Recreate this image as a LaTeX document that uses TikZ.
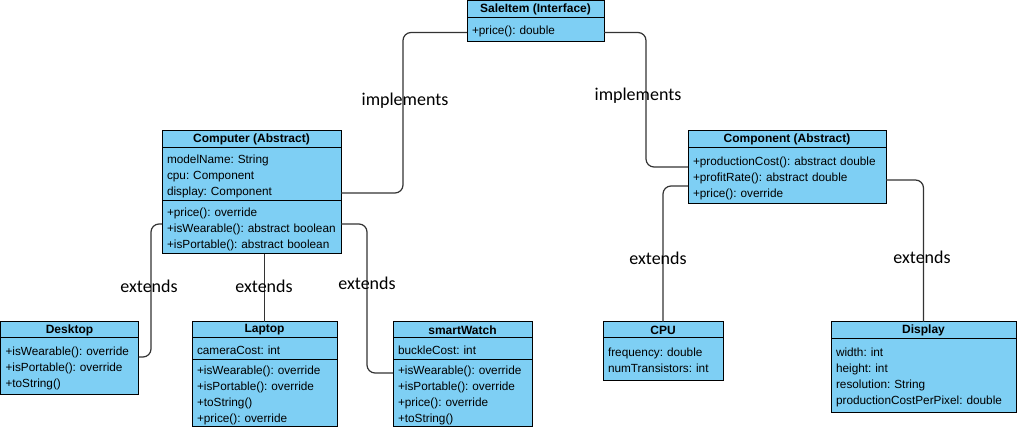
\documentclass[tikz,border=0pt]{standalone}
\usepackage{fontspec}
\usepackage{tikz}
\usetikzlibrary{positioning}
\newfontfamily\classfont{Liberation Sans}
\newfontfamily\labelfont{Carlito}
\definecolor{classblue}{RGB}{126,207,244}
\frenchspacing
\newcommand\rowstrut{\rule[-2.6pt]{0pt}{15.6pt}}
\tikzset{
  classhead/.style={draw=black,fill=classblue,line width=1pt,inner sep=0pt,outer sep=0pt,
    font=\classfont\fontsize{12}{13}\selectfont\bfseries,anchor=north west},
  classpart/.style={draw=black,fill=classblue,line width=1pt,inner xsep=5pt,inner ysep=0pt,
    outer sep=0pt,align=left,font=\classfont\fontsize{11.8}{16}\selectfont,
    execute at begin node=\rowstrut,execute at end node=\rowstrut},
  relation/.style={line width=1.2pt,draw=black!80,rounded corners=8pt},
  rellabel/.style={font=\labelfont\fontsize{18}{20}\selectfont,inner sep=0pt}
}

\begin{document}
\begin{tikzpicture}[x=1pt,y=-1pt]
  \useasboundingbox (0,0) rectangle (1017,427);
  % classes
  \node[classhead,minimum width=137pt,minimum height=17pt] (salehead) at (467,0.5) {SaleItem (Interface)};
  \node[classpart,below=0pt of salehead,text width=127pt,minimum height=24pt] (saleops) {+price(): double};

  \node[classhead,minimum width=179pt,minimum height=17pt] (comphead) at (162,131) {Computer (Abstract)};
  \node[classpart,below=0pt of comphead,text width=169pt,minimum height=53pt] (compattr)
    {modelName: String\\cpu: Component\\display: Component};
  \node[classpart,below=0pt of compattr,text width=169pt,minimum height=53pt] (compops)
    {+price(): override\\+isWearable(): abstract boolean\\+isPortable(): abstract boolean};

  \node[classhead,minimum width=198pt,minimum height=17pt] (parthead) at (688,131) {Component (Abstract)};
  \node[classpart,below=0pt of parthead,text width=188pt,minimum height=56pt] (partops)
    {+productionCost(): abstract double\\+profitRate(): abstract double\\+price(): override};

  \node[classhead,minimum width=138pt,minimum height=16pt] (deskhead) at (0.5,322) {Desktop};
  \node[classpart,below=0pt of deskhead,text width=128pt,minimum height=56pt] (deskops)
    {+isWearable(): override\\+isPortable(): override\\+toString()};

  \node[classhead,minimum width=145pt,minimum height=16pt] (laphead) at (192,322) {Laptop};
  \node[classpart,below=0pt of laphead,text width=135pt,minimum height=22pt] (lapattr) {cameraCost: int};
  \node[classpart,below=0pt of lapattr,text width=135pt,minimum height=66pt] (lapops)
    {+isWearable(): override\\+isPortable(): override\\+toString()\\+price(): override};

  \node[classhead,minimum width=139pt,minimum height=16pt] (watchhead) at (393,322) {smartWatch};
  \node[classpart,below=0pt of watchhead,text width=129pt,minimum height=22pt] (watchattr) {buckleCost: int};
  \node[classpart,below=0pt of watchattr,text width=129pt,minimum height=66pt] (watchops)
    {+isWearable(): override\\+isPortable(): override\\+price(): override\\+toString()};

  \node[classhead,minimum width=120pt,minimum height=16pt] (cpuhead) at (603,322) {CPU};
  \node[classpart,below=0pt of cpuhead,text width=110pt,minimum height=42pt] (cpuattr)
    {frequency: double\\numTransistors: int};

  \node[classhead,minimum width=185pt,minimum height=17pt] (disphead) at (831,322) {Display};
  \node[classpart,below=0pt of disphead,text width=175pt,minimum height=73pt] (dispattr)
    {width: int\\height: int\\resolution: String\\productionCostPerPixel: double};

  % relations
  \draw[relation] ([yshift=8pt]compattr.south east) -- ++(62,0) |- ([yshift=-3pt]saleops.west);
  \draw[relation] ([yshift=-3pt]saleops.east) -- ++(42,0) |- ([yshift=9pt]partops.west);
  \draw[relation] ([yshift=-10pt]partops.west) -| (cpuhead.north);
  \draw[relation] ([yshift=-4pt]partops.east) -| (disphead.north);
  \draw[relation] ([yshift=3.5pt]compops.west) -- ++(-11,0) |- ([yshift=9pt]deskops.east);
  \draw[relation] (laphead.north) -- (laphead.north |- compops.south);
  \draw[relation] ([yshift=3.5pt]compops.east) -- ++(26,0) |- ([yshift=20pt]watchops.west);

  % labels
  \node[rellabel] (implleft) at (405,101) {implements};
  \node[rellabel] (implright) at (638,96) {implements};
  \node[rellabel] (extdesk) at (149,286) {extends};
  \node[rellabel] (extlap) at (264,286) {extends};
  \node[rellabel] (extwatch) at (367,283) {extends};
  \node[rellabel] (extcpu) at (658,258) {extends};
  \node[rellabel] (extdisp) at (922,257) {extends};
\end{tikzpicture}
\end{document}
